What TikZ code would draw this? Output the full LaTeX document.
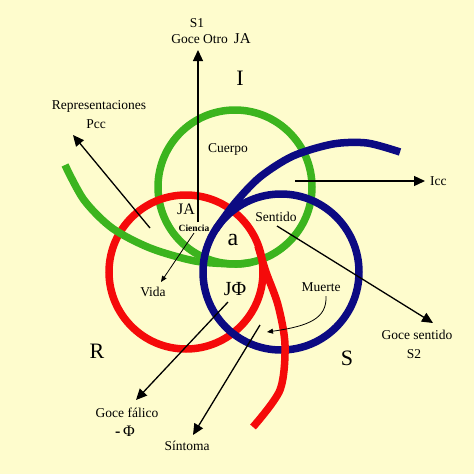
\documentclass[tikz,border=0pt]{standalone}
\usepackage{fontspec}
\setmainfont{Liberation Serif}
\usetikzlibrary{arrows.meta}
\definecolor{bg}{RGB}{254,252,205}
\definecolor{ringgreen}{RGB}{60,180,30}
\definecolor{ringred}{RGB}{245,10,10}
\definecolor{ringblue}{RGB}{12,10,130}
\tikzset{
  ring/.style={line width=7.5pt},
  bigarrow/.style={line width=1.3pt, -{Triangle[length=11pt,width=10pt]}},
  thinarrow/.style={line width=0.8pt, -{Triangle[length=6pt,width=5pt]}},
  lbl/.style={font=\fontsize{13.5}{15}\selectfont, inner sep=0pt},
  biglbl/.style={font=\fontsize{22}{24}\selectfont, inner sep=0pt},
}
\begin{document}
\begin{tikzpicture}[x=1pt,y=-1pt]
\fill[bg] (0,0) rectangle (474,474);
\useasboundingbox (0,0) rectangle (474,474);
% rings
\draw[ring, ringgreen] (235,187) circle[radius=77];
\draw[ring, ringred] (186,272) circle[radius=77];
\draw[ring, ringgreen] plot[smooth] coordinates {(65,165) (84,200) (112,228) (150,248) (195,261) (235,264) (250,262.5)};
\draw[ring, ringblue] (281,272) circle[radius=78];
\draw[ring, ringred] plot[smooth] coordinates {(258,246) (266,272) (278,305) (285,345) (280,390) (253,427)};
\draw[ring, ringblue] plot[smooth] coordinates {(215.6,229.5) (235,203) (260,177) (293,156) (333,144) (367,143) (400,152)};
% labels
\node[lbl] (s1) at (197,23) {S1};
\node[lbl] (goceotro) at (211,39) {Goce Otro\hspace{6pt}{\fontsize{15}{16}\selectfont JA}};
\node[biglbl] (I) at (240,78) {I};
\node[lbl] (rep) at (99,106) {Representaciones};
\node[lbl] (pcc) at (96,124) {Pcc};
\node[lbl] (cuerpo) at (228,149) {Cuerpo};
\node[lbl, anchor=west] (icc) at (430,181) {Icc};
\node[font=\fontsize{16}{18}\selectfont, inner sep=0pt] (ja) at (186,209) {JA};
\node[font=\fontsize{9.5}{11}\selectfont\bfseries, inner sep=0pt] (ciencia) at (194,228) {Ciencia};
\node[lbl] (sentido) at (276,217) {Sentido};
\node[font=\fontsize{24}{26}\selectfont, inner sep=0pt] (a) at (233,240) {a};
\node[lbl] (vida) at (153,292) {Vida};
\node[font=\fontsize{20}{22}\selectfont, inner sep=0pt] (jphi) at (235,289) {JΦ};
\node[lbl] (muerte) at (321,287) {Muerte};
\node[biglbl] (R) at (97,351) {R};
\node[biglbl] (S) at (347,358) {S};
\node[lbl] (gocesentido) at (417,335) {Goce sentido};
\node[lbl] (s2) at (414,354) {S2};
\node[lbl] (gocefalico) at (127,413) {Goce fálico};
\node[font=\fontsize{16}{18}\selectfont, inner sep=0pt] (mphi) at (125,431) {{\bfseries -}\,Φ};
\node[lbl] (sintoma) at (187,446) {Síntoma};
% arrow end points
\coordinate (v0) at (198,222);
\coordinate (v1) at (198,50);
\coordinate (r0) at (150,228);
\coordinate (r1) at (73,135);
\coordinate (i0) at (295,181);
\coordinate (i1) at (425,181);
\coordinate (se0) at (277,226);
\coordinate (se1) at (433,323);
\coordinate (c0) at (194,233);
\coordinate (c1) at (161,282);
\coordinate (j0) at (228,302);
\coordinate (j1) at (136,400);
\coordinate (si0) at (260,325);
\coordinate (si1) at (193,435);
\coordinate (m0) at (326,296);
\coordinate (m1) at (267,332);
% arrows
\draw[bigarrow] (v0) -- (v1);
\draw[bigarrow] (r0) -- (r1);
\draw[bigarrow] (i0) -- (i1);
\draw[bigarrow] (se0) -- (se1);
\draw[thinarrow] (c0) -- (c1);
\draw[bigarrow] (j0) -- (j1);
\draw[bigarrow] (si0) -- (si1);
\draw[thinarrow] (m0) .. controls (327,318) and (310,326) .. (m1);
\end{tikzpicture}
\end{document}
